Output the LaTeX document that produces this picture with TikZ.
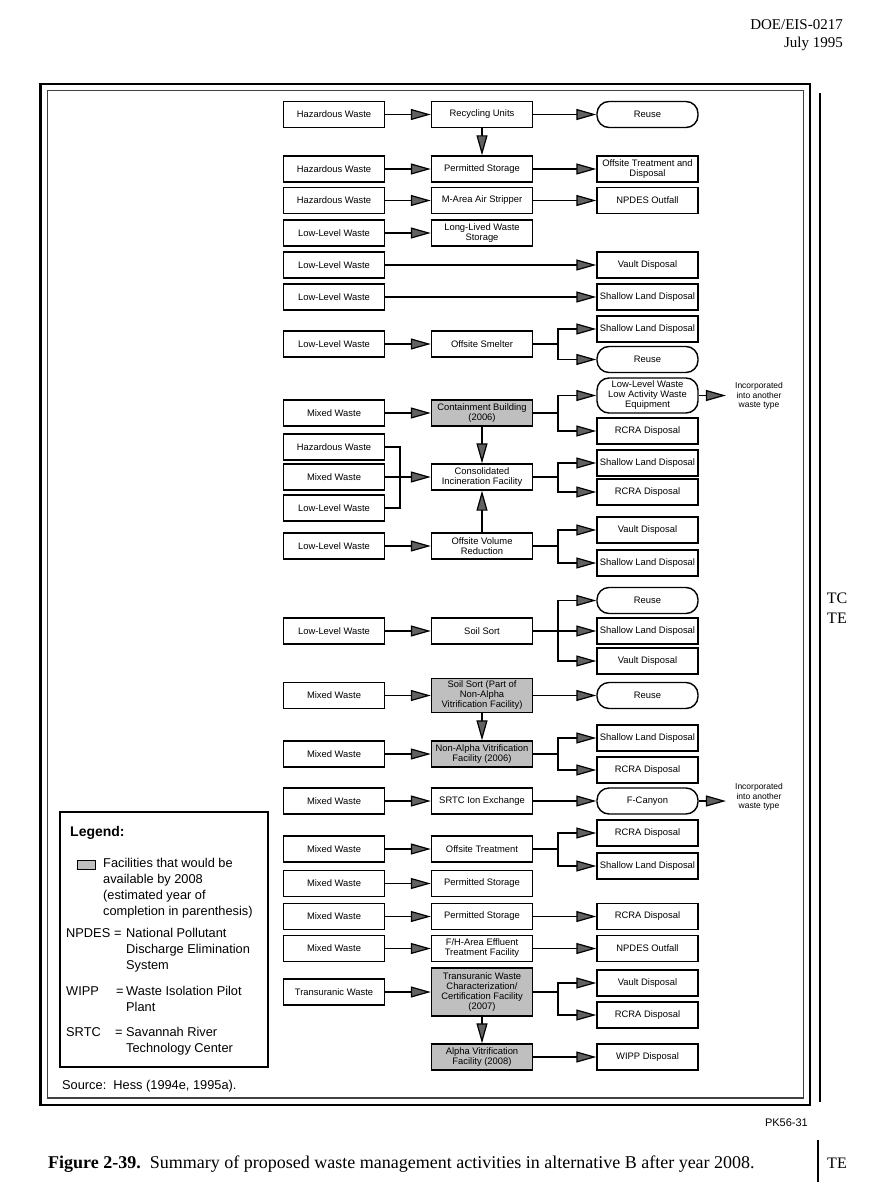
\documentclass[tikz,border=0pt]{standalone}
\usepackage{fontspec}
\setmainfont{Liberation Serif}
\newfontfamily\hsf{Liberation Sans}
\usetikzlibrary{arrows.meta}
\begin{document}
\begin{tikzpicture}[x=1pt,y=-1pt,
  box/.style={draw, line width=1.4pt, minimum width=101pt, minimum height=26pt, inner sep=1pt, align=center, font=\hsf\fontsize{9.4}{10}\selectfont},
  fac/.style={box, fill=black!25},
  rbox/.style={box, rounded corners=12pt},
  inc/.style={align=center, inner sep=0pt, font=\hsf\fontsize{8.5}{9.6}\selectfont},
  arr/.style={line width=1.2pt, -{Triangle[length=20pt,width=11pt,fill=black!62]}},
  link/.style={line width=1.2pt},
  lg/.style={anchor=base west, inner sep=0pt, font=\hsf\fontsize{12.8}{16}\selectfont},
  pg/.style={inner sep=0pt, font=\fontsize{15}{17}\selectfont}]
\useasboundingbox (0,0) rectangle (869,1182);
\fill[white] (0,0) rectangle (869,1182);
% page furniture
\node[pg, anchor=base east] (hd1) at (843,30) {DOE/EIS-0217};
\node[pg, anchor=base east] (hd2) at (843,48) {July 1995};
\draw[line width=2.6pt] (40.7,84) rectangle (810,1105);
\draw[line width=1.2pt, black!75] (47.7,90.7) rectangle (803.3,1098);
\draw[line width=1.3pt] (820,93) -- (820,1102);
\node[pg, font=\fontsize{16}{18}\selectfont] (tc) at (837,598) {TC};
\node[pg, font=\fontsize{16}{18}\selectfont] (te) at (837,618) {TE};
\node[anchor=base east, inner sep=0pt, font=\hsf\fontsize{11}{12}\selectfont] (pk) at (808,1126) {PK56-31};
\node[anchor=base west, inner sep=0pt, font=\fontsize{18}{20}\selectfont] (cap) at (48,1168) {\textbf{Figure 2-39.}\ \ Summary of proposed waste management activities in alternative B after year 2008.};
\draw[line width=1.3pt] (818,1140) -- (818,1182);
\node[pg, font=\fontsize{16}{18}\selectfont] (te2) at (837,1163) {TE};
% helper coordinates
\coordinate (bx) at (558,0);
\coordinate (mx) at (400,0);
% row 1
\node[box] (hw1) at (334,114.5) {Hazardous Waste};
\node[box] (ru) at (482,114.5) {Recycling Units};
\node[rbox] (re1) at (647.5,114.5) {Reuse};
% row 2
\node[box] (hw2) at (334,169) {Hazardous Waste};
\node[box] (ps1) at (482,169) {Permitted Storage};
\node[box] (otd) at (647.5,169) {Offsite Treatment and\\Disposal};
% row 3
\node[box] (hw3) at (334,200.5) {Hazardous Waste};
\node[box] (mas) at (482,200.5) {M-Area Air Stripper};
\node[box] (np1) at (647.5,200.5) {NPDES Outfall};
% row 4
\node[box] (ll1) at (334,233) {Low-Level Waste};
\node[box] (lws) at (482,233) {Long-Lived Waste\\Storage};
% row 5
\node[box] (ll2) at (334,265) {Low-Level Waste};
\node[box] (vd1) at (647.5,265) {Vault Disposal};
% row 6
\node[box] (ll3) at (334,297) {Low-Level Waste};
\node[box] (sl1) at (647.5,297) {Shallow Land Disposal};
% row 7
\node[box] (ll4) at (334,344) {Low-Level Waste};
\node[box] (osm) at (482,344) {Offsite Smelter};
\node[box] (sl2) at (647.5,329) {Shallow Land Disposal};
\node[rbox] (re2) at (647.5,359.5) {Reuse};
% row 8
\node[box] (mw1) at (334,413) {Mixed Waste};
\node[fac] (cb) at (482,413) {Containment Building\\(2006)};
\node[rbox, minimum height=35pt] (lle) at (647.5,395.5) {Low-Level Waste\\Low Activity Waste\\Equipment};
\node[box] (rc1) at (647.5,431) {RCRA Disposal};
\node[inc] (in1) at (759,396) {Incorporated\\into another\\waste type};
% row 9
\node[box] (hw4) at (334,447) {Hazardous Waste};
\node[box] (mw2) at (334,477) {Mixed Waste};
\node[box] (ll5) at (334,508) {Low-Level Waste};
\node[box] (cif) at (482,477) {Consolidated\\Incineration Facility};
\node[box] (sl3) at (647.5,463) {Shallow Land Disposal};
\node[box] (rc2) at (647.5,492) {RCRA Disposal};
% row 10
\node[box] (ll6) at (334,546) {Low-Level Waste};
\node[box] (ovr) at (482,546) {Offsite Volume\\Reduction};
\node[box] (vd2) at (647.5,530) {Vault Disposal};
\node[box] (sl4) at (647.5,563) {Shallow Land Disposal};
% row 11
\node[box] (ll7) at (334,631) {Low-Level Waste};
\node[box] (ss) at (482,631) {Soil Sort};
\node[rbox] (re3) at (647.5,600.5) {Reuse};
\node[box] (sl5) at (647.5,631) {Shallow Land Disposal};
\node[box] (vd3) at (647.5,661) {Vault Disposal};
% row 12
\node[box] (mw3) at (334,695.5) {Mixed Waste};
\node[fac, minimum height=34pt] (ssp) at (482,695.5) {Soil Sort (Part of\\Non-Alpha\\Vitrification Facility)};
\node[rbox] (re4) at (647.5,695.5) {Reuse};
% row 13
\node[box] (mw4) at (334,754) {Mixed Waste};
\node[fac] (nav) at (482,754) {Non-Alpha Vitrification\\Facility (2006)};
\node[box] (sl6) at (647.5,738) {Shallow Land Disposal};
\node[box] (rc3) at (647.5,770) {RCRA Disposal};
% row 14
\node[box] (mw5) at (334,801) {Mixed Waste};
\node[box] (srt) at (482,801) {SRTC Ion Exchange};
\node[rbox] (fc) at (647.5,801) {F-Canyon};
\node[inc] (in2) at (759,797) {Incorporated\\into another\\waste type};
% row 15
\node[box] (mw6) at (334,849) {Mixed Waste};
\node[box] (ot) at (482,849) {Offsite Treatment};
\node[box] (rc4) at (647.5,833) {RCRA Disposal};
\node[box] (sl7) at (647.5,866) {Shallow Land Disposal};
% row 16
\node[box] (mw7) at (334,883.5) {Mixed Waste};
\node[box] (ps2) at (482,883.5) {Permitted Storage};
% row 17
\node[box] (mw8) at (334,916.5) {Mixed Waste};
\node[box] (ps3) at (482,916.5) {Permitted Storage};
\node[box] (rc5) at (647.5,916.5) {RCRA Disposal};
% row 18
\node[box] (mw9) at (334,948.5) {Mixed Waste};
\node[box] (fh) at (482,948.5) {F/H-Area Effluent\\Treatment Facility};
\node[box] (np2) at (647.5,948.5) {NPDES Outfall};
% row 19
\node[box] (tw) at (334,992) {Transuranic Waste};
\node[fac, minimum height=48pt] (tcc) at (482,992) {Transuranic Waste\\Characterization/\\Certification Facility\\(2007)};
\node[box] (vd4) at (647.5,983) {Vault Disposal};
\node[box] (rc6) at (647.5,1015) {RCRA Disposal};
% row 20
\node[fac] (av) at (482,1057) {Alpha Vitrification\\Facility (2008)};
\node[box] (wp) at (647.5,1057) {WIPP Disposal};
% connectors
\draw[arr] (hw1) -- (ru);
\draw[arr] (ru) -- (re1);
\draw[arr] (ru) -- (ps1);
\draw[arr] (hw2) -- (ps1);
\draw[arr] (ps1) -- (otd);
\draw[arr] (hw3) -- (mas);
\draw[arr] (mas) -- (np1);
\draw[arr] (ll1) -- (lws);
\draw[arr] (ll2) -- (vd1);
\draw[arr] (ll3) -- (sl1);
\draw[arr] (ll4) -- (osm);
\draw[arr] (osm.east) -- (osm.east -| bx) |- (sl2.west);
\draw[arr] (osm.east) -- (osm.east -| bx) |- (re2.west);
\draw[arr] (mw1) -- (cb);
\draw[arr] (cb.east) -- (cb.east -| bx) |- (lle.west);
\draw[arr] (cb.east) -- (cb.east -| bx) |- (rc1.west);
\draw[arr, shorten >=9pt] (lle.east) -- (lle.east -| in1.west);
\draw[arr] (cb) -- (cif);
\draw[link] (hw4.east) -- (hw4.east -| mx) |- (ll5.east);
\draw[arr] (mw2) -- (cif);
\draw[arr] (cif.east) -- (cif.east -| bx) |- (sl3.west);
\draw[arr] (cif.east) -- (cif.east -| bx) |- (rc2.west);
\draw[arr] (ovr) -- (cif);
\draw[arr] (ll6) -- (ovr);
\draw[arr] (ovr.east) -- (ovr.east -| bx) |- (vd2.west);
\draw[arr] (ovr.east) -- (ovr.east -| bx) |- (sl4.west);
\draw[arr] (ll7) -- (ss);
\draw[arr] (ss.east) -- (ss.east -| bx) |- (re3.west);
\draw[arr] (ss) -- (sl5);
\draw[arr] (ss.east) -- (ss.east -| bx) |- (vd3.west);
\draw[arr] (mw3) -- (ssp);
\draw[arr] (ssp) -- (re4);
\draw[arr] (ssp) -- (nav);
\draw[arr] (mw4) -- (nav);
\draw[arr] (nav.east) -- (nav.east -| bx) |- (sl6.west);
\draw[arr] (nav.east) -- (nav.east -| bx) |- (rc3.west);
\draw[arr] (mw5) -- (srt);
\draw[arr] (srt) -- (fc);
\draw[arr, shorten >=9pt] (fc.east) -- (fc.east -| in2.west);
\draw[arr] (mw6) -- (ot);
\draw[arr] (ot.east) -- (ot.east -| bx) |- (rc4.west);
\draw[arr] (ot.east) -- (ot.east -| bx) |- (sl7.west);
\draw[arr] (mw7) -- (ps2);
\draw[arr] (mw8) -- (ps3);
\draw[arr] (ps3) -- (rc5);
\draw[arr] (mw9) -- (fh);
\draw[arr] (fh) -- (np2);
\draw[arr] (tw) -- (tcc);
\draw[arr] (tcc.east) -- (tcc.east -| bx) |- (vd4.west);
\draw[arr] (tcc.east) -- (tcc.east -| bx) |- (rc6.west);
\draw[arr] (tcc) -- (av);
\draw[arr] (av) -- (wp);
% legend
\draw[line width=1.3pt] (60,812) rectangle (268,1067);
\node[lg, font=\hsf\bfseries\fontsize{14}{16}\selectfont] (lgt) at (70,836) {Legend:};
\node[draw, line width=1pt, fill=black!25, minimum width=18pt, minimum height=9pt, inner sep=0pt] (sw) at (86,864.5) {};
\node[lg] (l1) at (103,867) {Facilities that would be};
\node[lg] (l2) at (103,883) {available by 2008};
\node[lg] (l3) at (103,899) {(estimated year of};
\node[lg] (l4) at (103,915) {completion in parenthesis)};
\node[lg] (n1) at (66,937) {NPDES};
\node[lg] (n1e) at (114,937) {=};
\node[lg] (n1t) at (126,937) {National Pollutant};
\node[lg] (n2) at (126,953) {Discharge Elimination};
\node[lg] (n3) at (126,969) {System};
\node[lg] (w1) at (66,995) {WIPP};
\node[lg] (w1e) at (116,995) {=};
\node[lg] (w1t) at (126,995) {Waste Isolation Pilot};
\node[lg] (w2) at (126,1011) {Plant};
\node[lg] (s1) at (66,1036) {SRTC};
\node[lg] (s1e) at (115,1036) {=};
\node[lg] (s1t) at (126,1036) {Savannah River};
\node[lg] (s2) at (126,1052) {Technology Center};
\node[lg] (src) at (62,1089) {Source:\ \ Hess (1994e, 1995a).};
\end{tikzpicture}
\end{document}
